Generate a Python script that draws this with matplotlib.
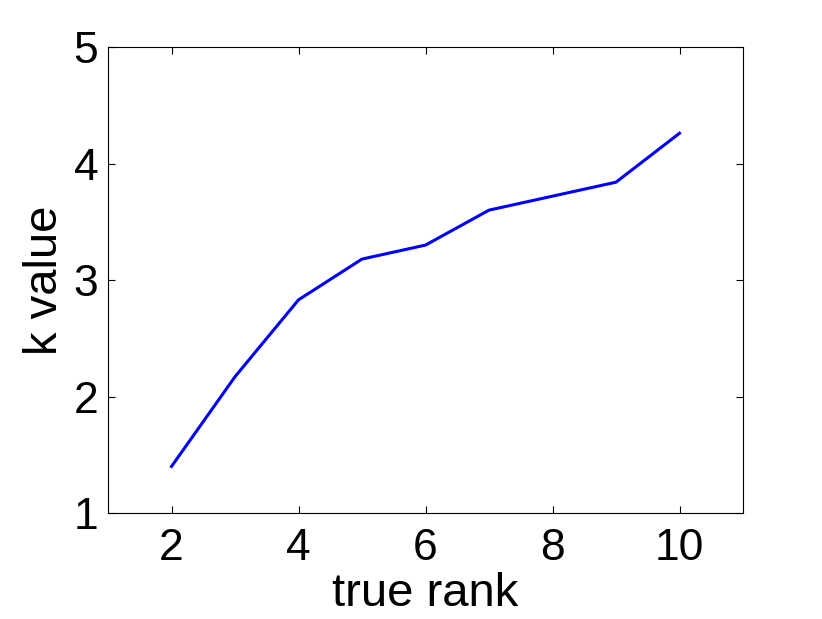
import matplotlib
matplotlib.use('Agg')
import matplotlib.pyplot as plt

# data
true_rank = [2, 3, 4, 5, 6, 7, 8, 9, 10]
k_value = [1.40, 2.17, 2.83, 3.18, 3.30, 3.60, 3.72, 3.84, 4.26]

plt.rcParams['font.family'] = ['Liberation Sans', 'DejaVu Sans']

fig = plt.figure(figsize=(8.22, 6.19), dpi=100)
ax = fig.add_axes([0.1314, 0.1712, 0.7725, 0.7528])

ax.plot(true_rank, k_value, color='#0000ff', linewidth=2.2)

ax.set_xlim(1, 11)
ax.set_ylim(1, 5)
ax.set_xticks([2, 4, 6, 8, 10])
ax.set_yticks([1, 2, 3, 4, 5])
ax.tick_params(direction='in', length=5, width=0.8, labelsize=32,
               top=True, right=True)
ax.tick_params(axis='x', pad=11)
ax.tick_params(axis='y', pad=7)
for s in ax.spines.values():
    s.set_linewidth(0.8)

ax.set_xlabel('true rank', fontsize=34, labelpad=2)
ax.set_ylabel('k value', fontsize=34, labelpad=5)

fig.savefig('out.png', dpi=100)
